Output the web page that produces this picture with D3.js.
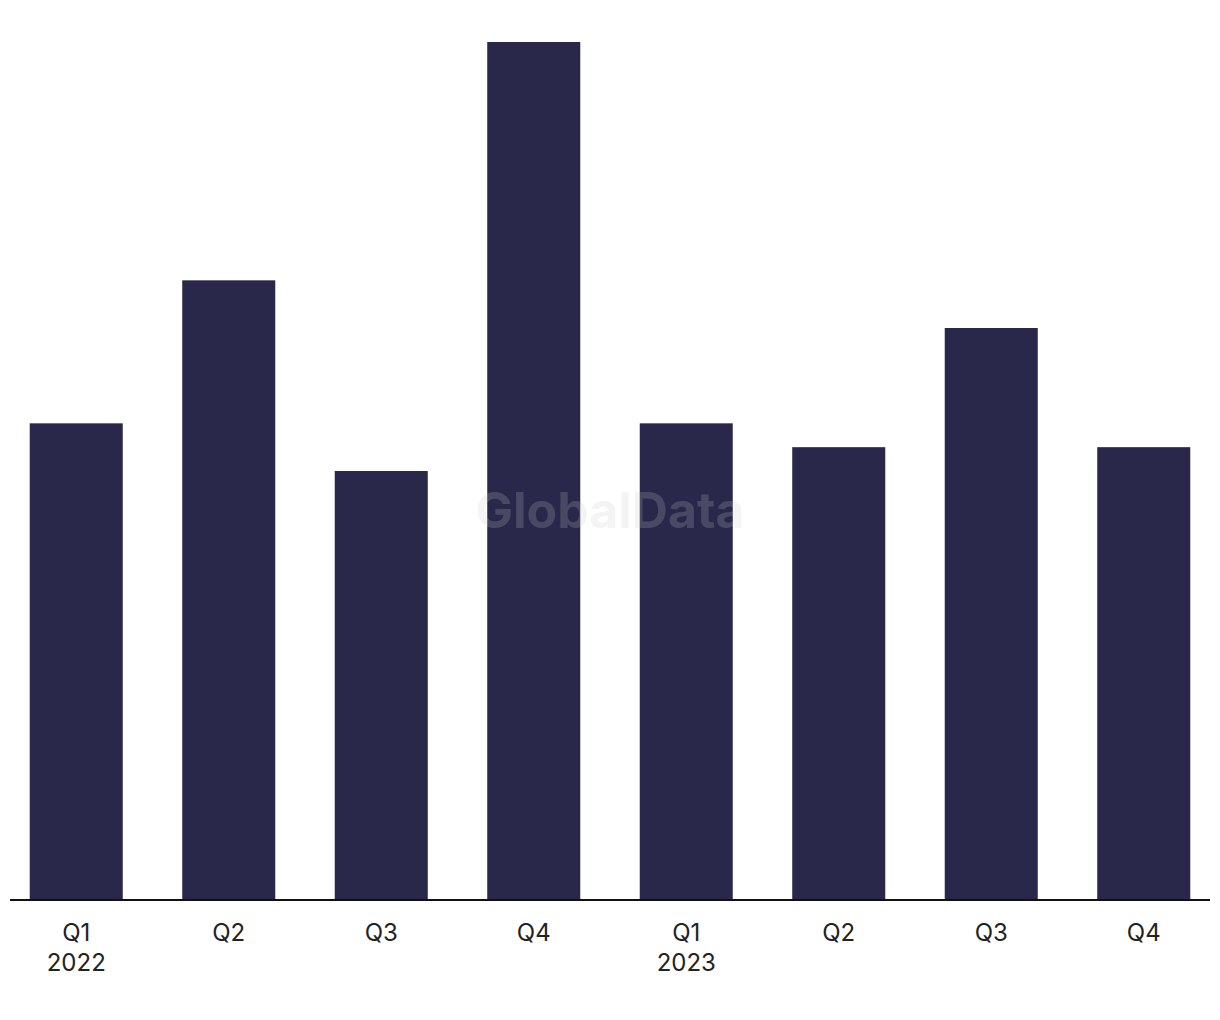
<!DOCTYPE html>
<html>
<head>
  <meta charset="utf-8">
  <script src="https://d3js.org/d3.v7.min.js"></script>
  <style>
    body { margin: 0; background: #fff; }
    .tick-label { font-family: Inter, "Liberation Sans", Arial, sans-serif; font-size: 24px; fill: #222; }
  </style>
</head>
<body>
  <div id="chart"></div>
  <script>
    // data
    var quarters = ['Q1', 'Q2', 'Q3', 'Q4', 'Q1', 'Q2', 'Q3', 'Q4'];
    var years = ['2022', '', '', '', '2023', '', '', ''];
    var values = [20, 26, 18, 36, 20, 19, 24, 19];

    var width = 1220, height = 1020;
    var baseline = 900, plotTop = 42;

    var svg = d3.select('#chart')
      .append('svg')
        .attr('width', width)
        .attr('height', height);

    var idx = d3.range(values.length);

    var x = d3.scaleBand()
      .domain(idx)
      .range([0, width])
      .paddingInner(0.39)
      .paddingOuter(0.195);

    var y = d3.scaleLinear()
      .domain([0, d3.max(values)])
      .range([baseline, plotTop]);

    // bars
    svg.selectAll('.bar')
      .data(values)
      .enter().append('rect')
        .attr('class', 'bar')
        .attr('x', function(d, i) { return x(i); })
        .attr('y', function(d) { return y(d); })
        .attr('width', x.bandwidth())
        .attr('height', function(d) { return baseline - y(d); })
        .attr('fill', '#29284b');

    // watermark
    svg.append('text')
      .text('GlobalData')
      .attr('x', 610)
      .attr('y', 528)
      .attr('text-anchor', 'middle')
      .style('font-family', 'Inter, "Liberation Sans", Arial, sans-serif')
      .style('font-weight', 'bold')
      .style('font-size', '50px')
      .style('fill', '#cccccc')
      .style('opacity', 0.2);

    // x axis line
    svg.append('line')
      .attr('x1', 10).attr('x2', 1210)
      .attr('y1', baseline).attr('y2', baseline)
      .attr('stroke', '#111')
      .attr('stroke-width', 2);

    // tick labels
    var labels = svg.selectAll('.tick-label')
      .data(idx)
      .enter().append('text')
        .attr('class', 'tick-label')
        .attr('text-anchor', 'middle')
        .attr('x', function(i) { return x(i) + x.bandwidth() / 2; })
        .attr('y', 941);

    labels.append('tspan')
      .attr('x', function(i) { return x(i) + x.bandwidth() / 2; })
      .text(function(i) { return quarters[i]; });

    labels.append('tspan')
      .attr('x', function(i) { return x(i) + x.bandwidth() / 2; })
      .attr('dy', 30)
      .text(function(i) { return years[i]; });
  </script>
</body>
</html>
